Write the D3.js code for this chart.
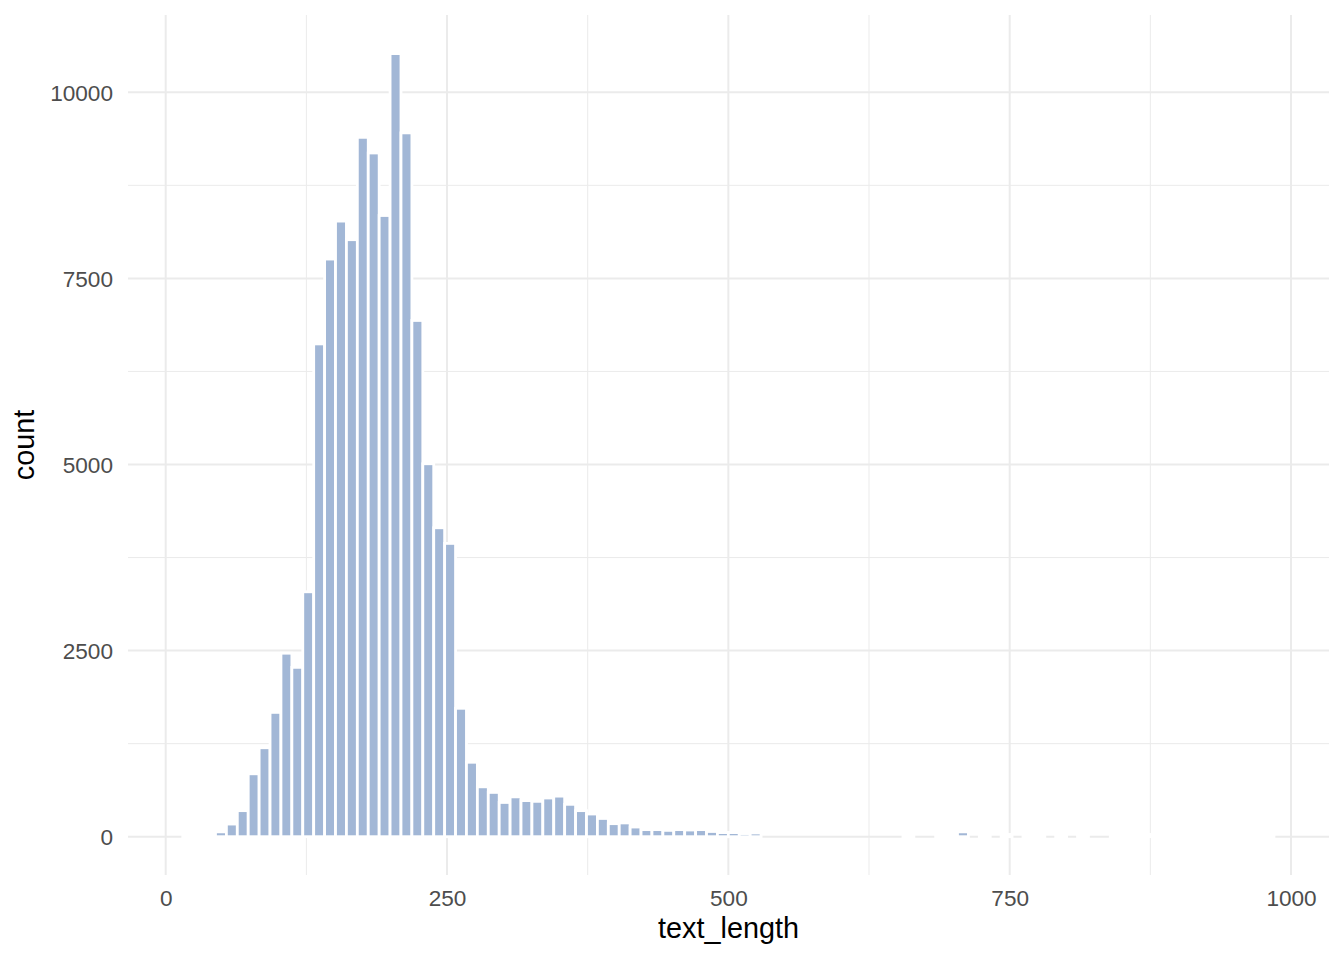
<!DOCTYPE html>
<html>
<head>
<meta charset="utf-8">
<script src="https://cdn.jsdelivr.net/npm/d3@7"></script>
<style>
  html, body { margin: 0; padding: 0; background: #ffffff; }
  svg { display: block; }
  text { font-family: "Liberation Sans", Arial, Helvetica, sans-serif; }
</style>
</head>
<body>
<script>
// ---- data ----
// histogram: 100 bins, first bin centred at 20, last bin centred at 980
const binCount = 100;
const firstBinCenter = 20;
const lastBinCenter = 980;
const counts = [
  25, 25, 30, 65, 170, 350, 845, 1195, 1670, 2465,
  2275, 3290, 6620, 7760, 8270, 8020, 9395, 9185, 8345, 10520,
  9455, 6935, 5010, 4150, 3940, 1725, 1000, 670, 595, 460,
  535, 485, 475, 520, 545, 435, 350, 305, 245, 175,
  185, 130, 95, 95, 85, 95, 90, 95, 70, 55,
  55, 42, 50, 0, 0, 0, 0, 0, 0, 0,
  0, 0, 0, 0, 0, 0, 30, 0, 0, 30,
  30, 65, 0, 30, 0, 30, 0, 30, 30, 0,
  30, 0, 30, 0, 0, 30, 30, 30, 30, 30,
  30, 30, 30, 30, 30, 30, 30, 30, 30, 30
];
const xTicks = [0, 250, 500, 750, 1000];
const xMinorTicks = [125, 375, 625, 875];
const yTicks = [0, 2500, 5000, 7500, 10000];
const yMinorTicks = [1250, 3750, 6250, 8750];
const xTitle = "text_length";
const yTitle = "count";

// ---- layout ----
const W = 1344, H = 960;
const panel = { left: 128, right: 1329, top: 15, bottom: 875 };
const tickFont = "22.6px";
const titleFont = "28.8px";

const binWidth = (lastBinCenter - firstBinCenter) / (binCount - 1);
const bins = counts.map((c, i) => {
  const center = firstBinCenter + i * binWidth;
  return { x0: center - binWidth / 2, x1: center + binWidth / 2, count: c };
});

const x = d3.scaleLinear().domain([0, 1000]).range([165.7, 1291]);
const y = d3.scaleLinear().domain([0, 10000]).range([836.7, 92.3]);

const svg = d3.select("body").append("svg")
  .attr("width", W).attr("height", H);

const gridColor = "#EBEBEB";
const grid = svg.append("g");

// minor gridlines
grid.selectAll("line.xminor").data(xMinorTicks).join("line")
  .attr("x1", d => x(d)).attr("x2", d => x(d))
  .attr("y1", panel.top).attr("y2", panel.bottom)
  .attr("stroke", gridColor).attr("stroke-width", 1);
grid.selectAll("line.yminor").data(yMinorTicks).join("line")
  .attr("y1", d => y(d)).attr("y2", d => y(d))
  .attr("x1", panel.left).attr("x2", panel.right)
  .attr("stroke", gridColor).attr("stroke-width", 1);
// major gridlines
grid.selectAll("line.xmajor").data(xTicks).join("line")
  .attr("x1", d => x(d)).attr("x2", d => x(d))
  .attr("y1", panel.top).attr("y2", panel.bottom)
  .attr("stroke", gridColor).attr("stroke-width", 2);
grid.selectAll("line.ymajor").data(yTicks).join("line")
  .attr("y1", d => y(d)).attr("y2", d => y(d))
  .attr("x1", panel.left).attr("x2", panel.right)
  .attr("stroke", gridColor).attr("stroke-width", 2);

// bars
svg.append("g").selectAll("rect").data(bins).join("rect")
  .attr("x", d => x(d.x0))
  .attr("width", d => x(d.x1) - x(d.x0))
  .attr("y", d => y(d.count))
  .attr("height", d => y(0) - y(d.count))
  .attr("fill", "#A2B7D6")
  .attr("stroke", "#ffffff")
  .attr("stroke-width", 2.8);

// axes (labels only, like theme_minimal)
const xAxis = d3.axisBottom(x).tickValues(xTicks).tickSize(0).tickPadding(0)
  .tickFormat(d3.format("d"));
const gx = svg.append("g").attr("transform", `translate(0, ${panel.bottom})`).call(xAxis);
gx.select(".domain").remove();
gx.selectAll("text")
  .attr("dy", null)
  .attr("y", 31)
  .attr("fill", "#4D4D4D")
  .style("font-size", tickFont)
  .style("font-family", "'Liberation Sans', Arial, sans-serif");

const yAxis = d3.axisLeft(y).tickValues(yTicks).tickSize(0).tickPadding(0)
  .tickFormat(d3.format("d"));
const gy = svg.append("g").attr("transform", `translate(113, 0)`).call(yAxis);
gy.select(".domain").remove();
gy.selectAll("text")
  .attr("x", 0)
  .attr("dy", "0.36em")
  .attr("fill", "#4D4D4D")
  .style("font-size", tickFont)
  .style("font-family", "'Liberation Sans', Arial, sans-serif");

// titles
svg.append("text")
  .attr("x", (panel.left + panel.right) / 2)
  .attr("y", 937.5)
  .attr("text-anchor", "middle")
  .attr("fill", "#000000")
  .style("font-size", titleFont)
  .text(xTitle);

svg.append("text")
  .attr("transform", `translate(33.5, ${(panel.top + panel.bottom) / 2}) rotate(-90)`)
  .attr("text-anchor", "middle")
  .attr("fill", "#000000")
  .style("font-size", titleFont)
  .text(yTitle);
</script>
</body>
</html>
